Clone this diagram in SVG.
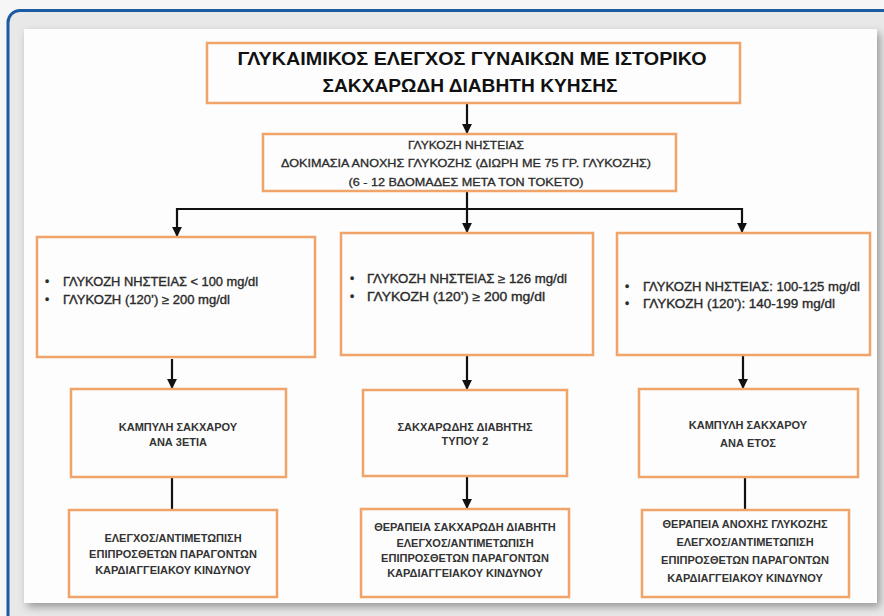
<svg xmlns="http://www.w3.org/2000/svg" width="884" height="616" viewBox="0 0 884 616">
  <defs>
    <filter id="panelShadow" x="-5%" y="-5%" width="110%" height="110%">
      <feGaussianBlur in="SourceAlpha" stdDeviation="4"/>
      <feOffset dx="3" dy="4" result="b"/>
      <feComponentTransfer><feFuncA type="linear" slope="0.35"/></feComponentTransfer>
      <feMerge><feMergeNode/><feMergeNode in="SourceGraphic"/></feMerge>
    </filter>
    <marker id="arrow" viewBox="0 0 10 10" refX="9" refY="5" markerWidth="4.5" markerHeight="4.5" orient="auto" markerUnits="strokeWidth">
      <path d="M0,0 L10,5 L0,10 z" fill="#111"/>
    </marker>
    <style>
      .box { fill: #fdfdfd; stroke: #f0a46a; stroke-width: 2.5; }
      .title { font-family: "Liberation Sans", Arial, sans-serif; font-weight: bold; font-size: 18px; fill: #111; text-anchor: middle; }
      .t2 { font-family: "Liberation Sans", Arial, sans-serif; font-size: 11px; fill: #2b2b2b; stroke: #2b2b2b; stroke-width: 0.3; text-anchor: middle; }
      .bul { font-family: "Liberation Sans", Arial, sans-serif; font-size: 12px; fill: #2b2b2b; stroke: #2b2b2b; stroke-width: 0.35; }
      .t3 { font-family: "Liberation Sans", Arial, sans-serif; font-weight: bold; font-size: 11px; fill: #333; text-anchor: middle; }
      .conn line { stroke: #111; stroke-width: 2.2; fill: none; }
    </style>
  </defs>

  <!-- page background and framed card -->
  <rect x="0" y="0" width="884" height="616" fill="#f6f6f6"/>
  <rect x="8" y="10.5" width="900" height="640" rx="12" fill="#e8e8e8" stroke="#1b5ba2" stroke-width="3"/>
  <rect x="24" y="29" width="853" height="574" fill="#fdfdfd" filter="url(#panelShadow)"/>

  <!-- connectors -->
  <g class="conn">
    <line x1="467" y1="104" x2="467" y2="133" marker-end="url(#arrow)"/>
    <line x1="467" y1="192" x2="467" y2="232" marker-end="url(#arrow)"/>
    <line x1="176" y1="209" x2="743" y2="209"/>
    <line x1="177" y1="208" x2="177" y2="236" marker-end="url(#arrow)"/>
    <line x1="742" y1="208" x2="742" y2="232" marker-end="url(#arrow)"/>
    <line x1="172" y1="359" x2="172" y2="388" marker-end="url(#arrow)"/>
    <line x1="467" y1="356" x2="467" y2="389" marker-end="url(#arrow)"/>
    <line x1="743" y1="356" x2="743" y2="388" marker-end="url(#arrow)"/>
    <line x1="172" y1="478" x2="172" y2="509"/>
    <line x1="467" y1="477" x2="467" y2="508" marker-end="url(#arrow)"/>
    <line x1="745" y1="478" x2="745" y2="509"/>
  </g>

  <!-- title -->
  <g id="node-title">
    <rect class="box" x="207" y="43" width="533" height="60"/>
    <text class="title" x="472" y="65" textLength="469" lengthAdjust="spacingAndGlyphs">ΓΛΥΚΑΙΜΙΚΟΣ ΕΛΕΓΧΟΣ ΓΥΝΑΙΚΩΝ ΜΕ ΙΣΤΟΡΙΚΟ</text>
    <text class="title" x="470" y="92" textLength="295" lengthAdjust="spacingAndGlyphs">ΣΑΚΧΑΡΩΔΗ ΔΙΑΒΗΤΗ ΚΥΗΣΗΣ</text>
  </g>

  <!-- screening tests -->
  <g id="node-tests">
    <rect class="box" x="263" y="134" width="413" height="57"/>
    <text class="t2" x="466" y="149" textLength="116" lengthAdjust="spacingAndGlyphs">ΓΛΥΚΟΖΗ ΝΗΣΤΕΙΑΣ</text>
    <text class="t2" x="466" y="167" textLength="370" lengthAdjust="spacingAndGlyphs">ΔΟΚΙΜΑΣΙΑ ΑΝΟΧΗΣ ΓΛΥΚΟΖΗΣ (ΔΙΩΡΗ ΜΕ 75 ΓΡ. ΓΛΥΚΟΖΗΣ)</text>
    <text class="t2" x="466" y="186" textLength="235" lengthAdjust="spacingAndGlyphs">(6 - 12 ΒΔΟΜΑΔΕΣ ΜΕΤΑ ΤΟΝ ΤΟΚΕΤΟ)</text>
  </g>

  <!-- result branches -->
  <g id="node-normal">
    <rect class="box" x="37" y="237" width="278" height="120"/>
    <text class="bul" x="45" y="286">•</text>
    <text class="bul" x="63" y="286" textLength="195" lengthAdjust="spacingAndGlyphs">ΓΛΥΚΟΖΗ ΝΗΣΤΕΙΑΣ &lt; 100 mg/dl</text>
    <text class="bul" x="45" y="304">•</text>
    <text class="bul" x="63" y="304" textLength="167" lengthAdjust="spacingAndGlyphs">ΓΛΥΚΟΖΗ (120’) ≥ 200 mg/dl</text>
  </g>

  <g id="node-diabetes">
    <rect class="box" x="341" y="233" width="252" height="122"/>
    <text class="bul" x="350" y="283">•</text>
    <text class="bul" x="367" y="283" textLength="200" lengthAdjust="spacingAndGlyphs">ΓΛΥΚΟΖΗ ΝΗΣΤΕΙΑΣ ≥ 126 mg/dl</text>
    <text class="bul" x="350" y="301">•</text>
    <text class="bul" x="367" y="301" textLength="178" lengthAdjust="spacingAndGlyphs">ΓΛΥΚΟΖΗ (120’) ≥ 200 mg/dl</text>
  </g>

  <g id="node-intolerance">
    <rect class="box" x="617" y="233" width="253" height="122"/>
    <text class="bul" x="625" y="291">•</text>
    <text class="bul" x="643" y="291" textLength="217" lengthAdjust="spacingAndGlyphs">ΓΛΥΚΟΖΗ ΝΗΣΤΕΙΑΣ: 100-125 mg/dl</text>
    <text class="bul" x="625" y="308">•</text>
    <text class="bul" x="643" y="308" textLength="192" lengthAdjust="spacingAndGlyphs">ΓΛΥΚΟΖΗ (120’): 140-199 mg/dl</text>
  </g>

  <!-- follow-up -->
  <g id="node-curve-3y">
    <rect class="box" x="71" y="389" width="215" height="88"/>
    <text class="t3" x="178" y="431">ΚΑΜΠΥΛΗ ΣΑΚΧΑΡΟΥ</text>
    <text class="t3" x="178" y="446">ΑΝΑ 3ΕΤΙΑ</text>
  </g>

  <g id="node-type2">
    <rect class="box" x="363" y="390" width="204" height="86"/>
    <text class="t3" x="465" y="431">ΣΑΚΧΑΡΩΔΗΣ ΔΙΑΒΗΤΗΣ</text>
    <text class="t3" x="465" y="445">ΤΥΠΟΥ 2</text>
  </g>

  <g id="node-curve-1y">
    <rect class="box" x="639" y="389" width="219" height="88"/>
    <text class="t3" x="748" y="429">ΚΑΜΠΥΛΗ ΣΑΚΧΑΡΟΥ</text>
    <text class="t3" x="748" y="447">ΑΝΑ ΕΤΟΣ</text>
  </g>

  <!-- management -->
  <g id="node-risk-left">
    <rect class="box" x="69" y="510" width="208" height="87"/>
    <text class="t3" x="173" y="542">ΕΛΕΓΧΟΣ/ΑΝΤΙΜΕΤΩΠΙΣΗ</text>
    <text class="t3" x="173" y="558">ΕΠΙΠΡΟΣΘΕΤΩΝ ΠΑΡΑΓΟΝΤΩΝ</text>
    <text class="t3" x="173" y="574">ΚΑΡΔΙΑΓΓΕΙΑΚΟΥ ΚΙΝΔΥΝΟΥ</text>
  </g>

  <g id="node-risk-mid">
    <rect class="box" x="361" y="509" width="208" height="88"/>
    <text class="t3" x="465" y="531">ΘΕΡΑΠΕΙΑ ΣΑΚΧΑΡΩΔΗ ΔΙΑΒΗΤΗ</text>
    <text class="t3" x="465" y="547">ΕΛΕΓΧΟΣ/ΑΝΤΙΜΕΤΩΠΙΣΗ</text>
    <text class="t3" x="465" y="562">ΕΠΙΠΡΟΣΘΕΤΩΝ ΠΑΡΑΓΟΝΤΩΝ</text>
    <text class="t3" x="465" y="577">ΚΑΡΔΙΑΓΓΕΙΑΚΟΥ ΚΙΝΔΥΝΟΥ</text>
  </g>

  <g id="node-risk-right">
    <rect class="box" x="642" y="510" width="207" height="87"/>
    <text class="t3" x="745" y="528">ΘΕΡΑΠΕΙΑ ΑΝΟΧΗΣ ΓΛΥΚΟΖΗΣ</text>
    <text class="t3" x="745" y="546">ΕΛΕΓΧΟΣ/ΑΝΤΙΜΕΤΩΠΙΣΗ</text>
    <text class="t3" x="745" y="564">ΕΠΙΠΡΟΣΘΕΤΩΝ ΠΑΡΑΓΟΝΤΩΝ</text>
    <text class="t3" x="745" y="582">ΚΑΡΔΙΑΓΓΕΙΑΚΟΥ ΚΙΝΔΥΝΟΥ</text>
  </g>
</svg>
